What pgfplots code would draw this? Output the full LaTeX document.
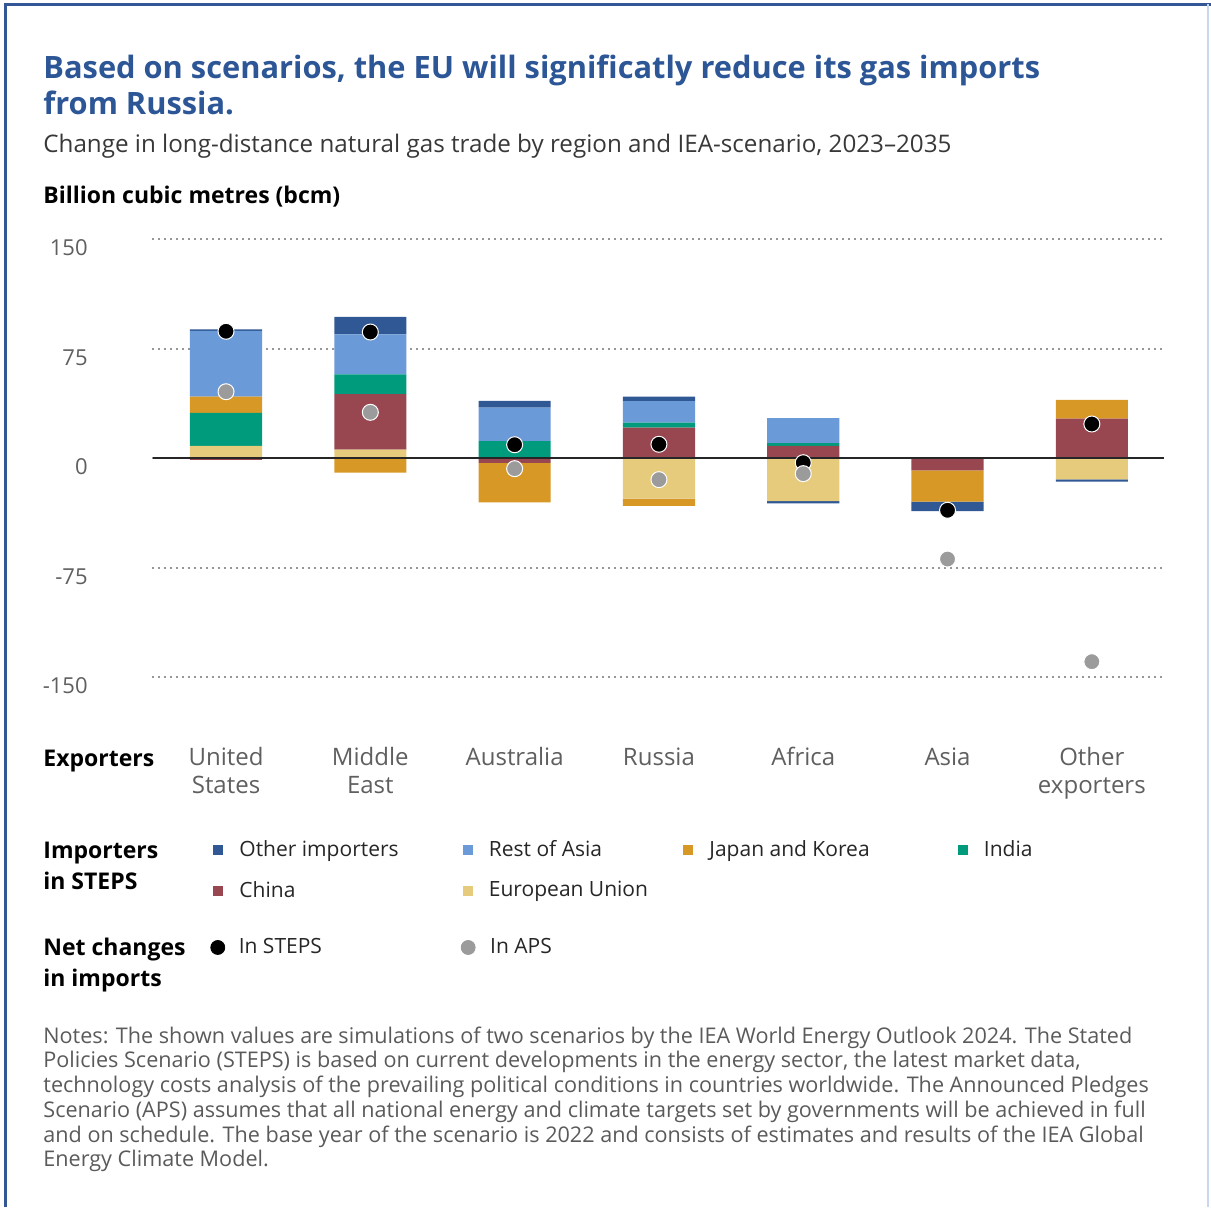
\documentclass[border=0pt]{standalone}
\usepackage{fontspec}
\setmainfont{Open Sans}
\newfontfamily\notefont{Open Sans}
\usepackage{pgfplots}
\usepackage{pgfplotstable}
\pgfplotsset{compat=1.18}

\definecolor{cOther}{RGB}{47,88,148}
\definecolor{cRoA}{RGB}{106,154,216}
\definecolor{cJK}{RGB}{215,152,38}
\definecolor{cIndia}{RGB}{0,155,125}
\definecolor{cChina}{RGB}{152,70,80}
\definecolor{cEU}{RGB}{230,203,125}
\definecolor{cAPS}{RGB}{155,155,155}
\definecolor{titleblue}{RGB}{44,86,150}
\definecolor{labgray}{RGB}{95,95,95}
\definecolor{notegray}{RGB}{90,90,90}
\definecolor{gridgray}{RGB}{150,150,150}
\definecolor{frameblue}{RGB}{50,86,150}
\definecolor{framelight}{RGB}{200,215,235}

\pgfplotstableread{
x EU China India JK RoA Other
0 8.4 0 22.6 11.0 45.0 1.1
1 5.7 38.1 13.5 0 27.4 11.9
2 0 0 11.6 0 23.0 4.6
3 0 20.8 3.4 0 14.8 3.0
4 0 8.4 1.8 0 17.1 0
5 0 0 0 0 0 0
6 0 26.9 0 13.0 0 0
}\postab

\pgfplotstableread{
x China EU JK Other
0 -1.2 0 0 0
1 0 0 -10.0 0
2 -3.4 0 -27.0 0
3 0 -27.9 -4.8 0
4 0 -29.5 0 -1.6
5 -8.4 0 -21.5 -6.4
6 0 -14.6 0 -1.6
}\negtab

\pgfplotstableread{
x steps aps
0 86.8 45.4
1 86.3 31.3
2 9.1 -7.3
3 9.4 -14.8
4 -3.2 -10.7
5 -35.8 -69.2
6 23.3 -139.5
}\nettab

\pgfplotsset{
 base/.style={width=506pt,height=219pt,scale only axis,xmin=-0.513,xmax=6.5,ymin=-150,ymax=150,at={(76pt,-338.5pt)},anchor=south west,clip=false},
 sq/.style={fill=#1, draw=none, legend image code/.code={\fill[#1] (0pt,-2.5pt) rectangle (5pt,2.5pt); \path[draw=none,fill=none] (0pt,0pt) -- (13pt,0pt);}},
}

\begin{document}
\begin{tikzpicture}
\begin{axis}[base, ybar stacked, bar width=0.5,
 axis line style={draw=none}, major tick length=0pt,
 ytick={-150,-75,0,75,150}, yticklabels={-150,-75,0,75,150},
 yticklabel style={anchor=east, inner sep=0pt, xshift=-32pt, yshift=-4.5pt, font=\fontsize{11}{13}\selectfont, text=labgray},
 ymajorgrids, grid style={gridgray, line width=1pt, dash pattern=on 1pt off 2pt},
 xtick={0,...,6}, xticklabels={{United\\States},{Middle\\East},Australia,Russia,Africa,Asia,{Other\\exporters}},
 xticklabel style={align=center, anchor=north, inner sep=0pt, yshift=-35pt, font=\fontsize{12}{14}\selectfont, text=labgray},
 reverse legend, legend columns=4,
 legend style={draw=none, fill=none, inner sep=0pt, nodes={inner sep=0pt}, at={(0.0603,-0.3731)}, anchor=north west, font=\fontsize{10.5}{12.5}\selectfont, /tikz/column sep=0pt, /tikz/row sep=10.6pt, cells={anchor=west}, text=black!85},
]
\addplot[sq=cEU] table[x=x,y=EU]{\postab}; \addlegendentry{European Union}
\addplot[sq=cChina] table[x=x,y=China]{\postab}; \addlegendentry{China}
\addplot[sq=cIndia] table[x=x,y=India]{\postab}; \addlegendentry{India}
\addplot[sq=cJK] table[x=x,y=JK]{\postab}; \addlegendentry{\makebox[124.25pt][l]{Japan and Korea}}
\addplot[sq=cRoA] table[x=x,y=RoA]{\postab}; \addlegendentry{\makebox[97.25pt][l]{Rest of Asia}}
\addplot[sq=cOther] table[x=x,y=Other]{\postab}; \addlegendentry{\makebox[111.75pt][l]{Other importers}}
\end{axis}

\begin{axis}[base, hide axis, ybar stacked, bar width=0.5]
\addplot[fill=cChina, draw=none] table[x=x,y=China]{\negtab};
\addplot[fill=cEU, draw=none] table[x=x,y=EU]{\negtab};
\addplot[fill=cJK, draw=none] table[x=x,y=JK]{\negtab};
\addplot[fill=cOther, draw=none] table[x=x,y=Other]{\negtab};
\end{axis}

\begin{axis}[base, hide axis, legend columns=2,
 legend style={draw=none, fill=none, inner sep=0pt, nodes={inner sep=0pt}, at={(0.0573,-0.5958)}, anchor=north west, font=\fontsize{10.5}{12.5}\selectfont, /tikz/column sep=0pt, cells={anchor=west}, text=black!85}]
\draw[line width=1pt, black!85] (axis cs:-0.506,0) -- (axis cs:6.5,0);
\addplot[only marks, mark=*, mark size=4pt, mark options={fill=black, draw=white, line width=0.5pt}, legend image code/.code={\fill[black] (3.5pt,0pt) circle (3.5pt); \path[draw=none,fill=none] (0pt,0pt) -- (14pt,0pt);}] table[x=x,y=steps]{\nettab};
\addlegendentry{\makebox[111pt][l]{In STEPS}}
\addplot[only marks, mark=*, mark size=4pt, mark options={fill=cAPS, draw=white, line width=0.5pt}, legend image code/.code={\fill[cAPS] (3.5pt,0pt) circle (3.5pt); \path[draw=none,fill=none] (0pt,0pt) -- (14.5pt,0pt);}] table[x=x,y=aps]{\nettab};
\addlegendentry{In APS}
\end{axis}

\begin{scope}[x=0.5pt,y=-0.5pt]
\draw[frameblue, line width=1.5pt] (5,1207) -- (5,4) -- (1211,4);
\draw[framelight, line width=1pt] (1208,4) -- (1208,1207);
\node[anchor=base west, inner sep=0pt, font=\fontsize{15.4}{18}\selectfont\bfseries, text=titleblue] at (43,78.5) {Based on scenarios, the EU will significatly reduce its gas imports};
\node[anchor=base west, inner sep=0pt, font=\fontsize{15.4}{18}\selectfont\bfseries, text=titleblue] at (43,114) {from Russia.};
\node[anchor=base west, inner sep=0pt, font=\fontsize{12.1}{14}\selectfont, text=black!78] at (43,152) {Change in long-distance natural gas trade by region and IEA-scenario, 2023--2035};
\node[anchor=base west, inner sep=0pt, font=\fontsize{11.5}{13}\selectfont\bfseries, text=black] at (43,203) {Billion cubic metres (bcm)};
\node[anchor=base west, inner sep=0pt, font=\fontsize{11.5}{13}\selectfont\bfseries, text=black] at (43,766) {Exporters};
\node[anchor=base west, inner sep=0pt, font=\fontsize{11.5}{13}\selectfont\bfseries, text=black] at (43,858) {Importers};
\node[anchor=base west, inner sep=0pt, font=\fontsize{11.5}{13}\selectfont\bfseries, text=black] at (43,889) {in STEPS};
\node[anchor=base west, inner sep=0pt, font=\fontsize{11.5}{13}\selectfont\bfseries, text=black] at (43,955) {Net changes};
\node[anchor=base west, inner sep=0pt, font=\fontsize{11.5}{13}\selectfont\bfseries, text=black] at (43,986) {in imports};
\begin{scope}[every node/.style={anchor=base west, inner sep=0pt, font=\notefont\fontsize{10.8}{12}\selectfont, text=notegray}]
\node at (43,1043) {Notes: The shown values are simulations of two scenarios by the IEA World Energy Outlook 2024. The Stated};
\node at (43,1067.5) {Policies Scenario (STEPS) is based on current developments in the energy sector, the latest market data,};
\node at (43,1092) {technology costs analysis of the prevailing political conditions in countries worldwide. The Announced Pledges};
\node at (43,1117) {Scenario (APS) assumes that all national energy and climate targets set by governments will be achieved in full};
\node at (43,1142) {and on schedule. The base year of the scenario is 2022 and consists of estimates and results of the IEA Global};
\node at (43,1166) {Energy Climate Model.};
\end{scope}
\end{scope}
\pgfresetboundingbox
\path (0pt,0pt) rectangle (605.5pt,-603.5pt);
\end{tikzpicture}
\end{document}
